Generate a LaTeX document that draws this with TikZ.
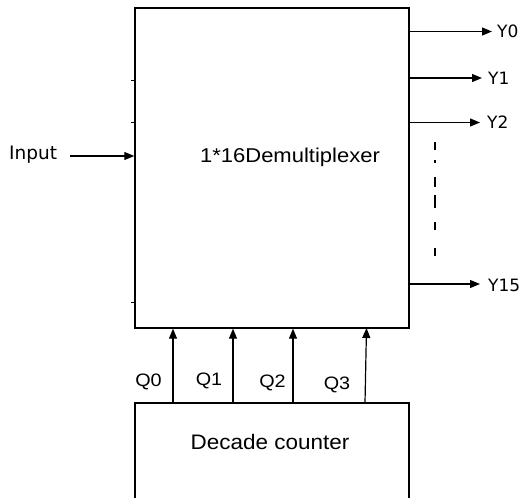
\documentclass[tikz,border=0pt]{standalone}
\usepackage{fontspec}
\setmainfont{Liberation Sans}
\newfontfamily\dejaf{DejaVu Sans}
\usetikzlibrary{arrows.meta,calc}
\tikzset{
  box/.style={draw, line width=1.4pt, minimum width=274pt, inner sep=0pt},
  arr/.style={line width=1.2pt, -{Triangle[length=10pt,width=8pt]}},
  tick/.style={line width=1pt},
  atext/.style={inner sep=0pt, font=\fontsize{18}{20}\selectfont, xscale=1.1},
  ylab/.style={inner sep=0pt, anchor=west, font=\dejaf\fontsize{17}{19}\selectfont},
}
\begin{document}
\begin{tikzpicture}[x=1pt,y=-1pt]
\useasboundingbox (0,0) rectangle (523,498);
% main demultiplexer box
\node[box, minimum height=320pt] (demux) at (272,168) {};
\node[inner sep=0pt, font=\fontsize{20}{22}\selectfont, xscale=1.1] (dtext) at (290,157) {1*16Demultiplexer};
% decade counter box (bottom edge lies below the page)
\node[box, minimum height=100pt] (counter) at (272,453) {};
\node[inner sep=0pt, font=\fontsize{21}{23}\selectfont, xscale=1.07] (ctext) at (270,442) {Decade counter};
% input
\node[inner sep=0pt, anchor=west, font=\dejaf\fontsize{18.5}{20}\selectfont] (inp) at (9,155) {Input};
\coordinate (inpS) at (70,156);
\draw[arr] (inpS) -- (inpS -| demux.west);
% small ticks on left edge
\foreach \yy in {80,122,302}{
  \coordinate (tk) at (131,\yy);
  \draw[tick] (tk) -- (tk -| demux.west);
}
% outputs
\coordinate (y0s) at (409,31.5);
\coordinate (y0e) at (492,31.5);
\coordinate (y1s) at (409,78);
\coordinate (y1e) at (482,78);
\coordinate (y2s) at (409,122.5);
\coordinate (y2e) at (480,122.5);
\coordinate (y15s) at (409,284);
\coordinate (y15e) at (480,284);
\draw[arr] (y0s -| demux.east) -- (y0e);
\draw[arr] (y1s -| demux.east) -- (y1e);
\draw[arr] (y2s -| demux.east) -- (y2e);
\draw[arr] (y15s -| demux.east) -- (y15e);
\node[ylab] (Y0) at (497,31) {Y0};
\node[ylab] (Y1) at (488,78.5) {Y1};
\node[ylab] (Y2) at (487,122) {Y2};
\node[ylab] (Y15) at (488,285) {Y15};
% dashed continuation
\coordinate (dA) at (435,142);
\coordinate (dB) at (435,256);
\draw[line width=1.1pt, dash pattern=on 8pt off 10pt on 3pt off 14pt on 10pt off 8pt on 13pt off 14pt on 8pt off 18pt on 8pt off 10pt] (dA) -- (dB);
% Q lines
\coordinate (q0) at (173,403);
\coordinate (q1) at (233,403);
\coordinate (q2) at (293,403);
\coordinate (q3) at (365,403);
\coordinate (q3t) at (366.5,328);
\draw[arr] (q0) -- (q0 |- demux.south);
\draw[arr] (q1) -- (q1 |- demux.south);
\draw[arr] (q2) -- (q2 |- demux.south);
\draw[arr] (q3) -- (q3t);
\node[atext] (Q0) at (148.5,382) {Q0};
\node[atext] (Q1) at (209,381) {Q1};
\node[atext] (Q2) at (272.5,383) {Q2};
\node[atext] (Q3) at (337,384.5) {Q3};
\end{tikzpicture}
\end{document}
